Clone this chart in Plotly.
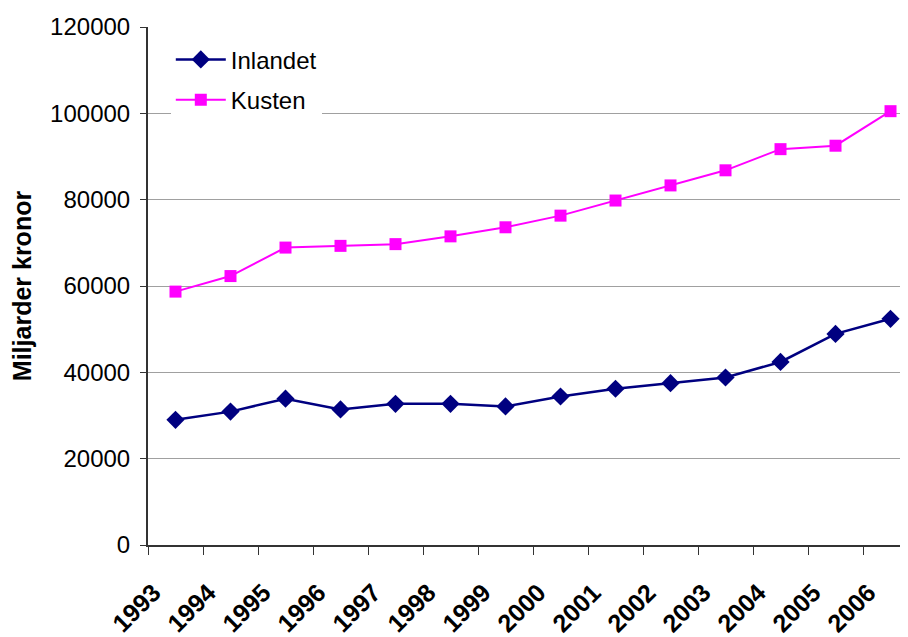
import plotly.graph_objects as go

# Data
years = ['1993', '1994', '1995', '1996', '1997', '1998', '1999',
         '2000', '2001', '2002', '2003', '2004', '2005', '2006']
inlandet = [29000, 30900, 33900, 31400, 32700, 32700, 32100,
            34400, 36200, 37500, 38800, 42400, 48900, 52400]
kusten = [58700, 62300, 68900, 69300, 69700, 71500, 73600,
          76300, 79800, 83300, 86800, 91700, 92500, 100500]

font_family = 'Liberation Sans, Arial, sans-serif'

fig = go.Figure()

fig.add_trace(
    go.Scatter(x=years,
               y=inlandet,
               mode='lines+markers',
               name='Inlandet',
               legendgroup='inlandet',
               line=dict(color='#000080', width=2.5),
               marker=dict(symbol='diamond', size=14, color='#000080')))

fig.add_trace(
    go.Scatter(x=years,
               y=kusten,
               mode='lines+markers',
               name='Kusten',
               legendgroup='kusten',
               line=dict(color='#FF00FF', width=2),
               marker=dict(symbol='square', size=12, color='#FF00FF')))

# page body adds an 8px margin, so the figure is a bit smaller than the window
fig.update_layout(
    width=900,
    height=629,
    paper_bgcolor='white',
    plot_bgcolor='white',
    margin=dict(l=140, r=0, t=19, b=90),
    font=dict(family=font_family, size=24, color='black'),
    showlegend=True,
    legend=dict(x=0.03,
                y=0.98,
                xanchor='left',
                yanchor='top',
                bgcolor='white',
                borderwidth=0,
                font=dict(size=24),
                itemwidth=50,
                tracegroupgap=6),
)

fig.update_xaxes(type='category',
                 range=[-0.5, 13.318],
                 tickson='boundaries',
                 ticks='outside',
                 ticklen=8,
                 tickcolor='#333333',
                 showgrid=False,
                 showline=True,
                 linecolor='#333333',
                 linewidth=2,
                 tickangle=-45,
                 tickfont=dict(family=font_family, size=25, color='black',
                               weight='bold'),
                 ticklabelshift=-22,
                 ticklabelstandoff=21)

fig.update_yaxes(range=[0, 120000],
                 dtick=20000,
                 tickformat='d',
                 ticks='outside',
                 ticklen=6,
                 tickcolor='#333333',
                 showgrid=True,
                 gridcolor='#a0a0a0',
                 gridwidth=1,
                 zeroline=False,
                 showline=True,
                 linecolor='#333333',
                 linewidth=2,
                 tickfont=dict(size=24),
                 ticklabelstandoff=5,
                 title=dict(text='<b>Miljarder kronor</b>',
                            font=dict(size=25),
                            standoff=11))

fig.write_html("out.html")
